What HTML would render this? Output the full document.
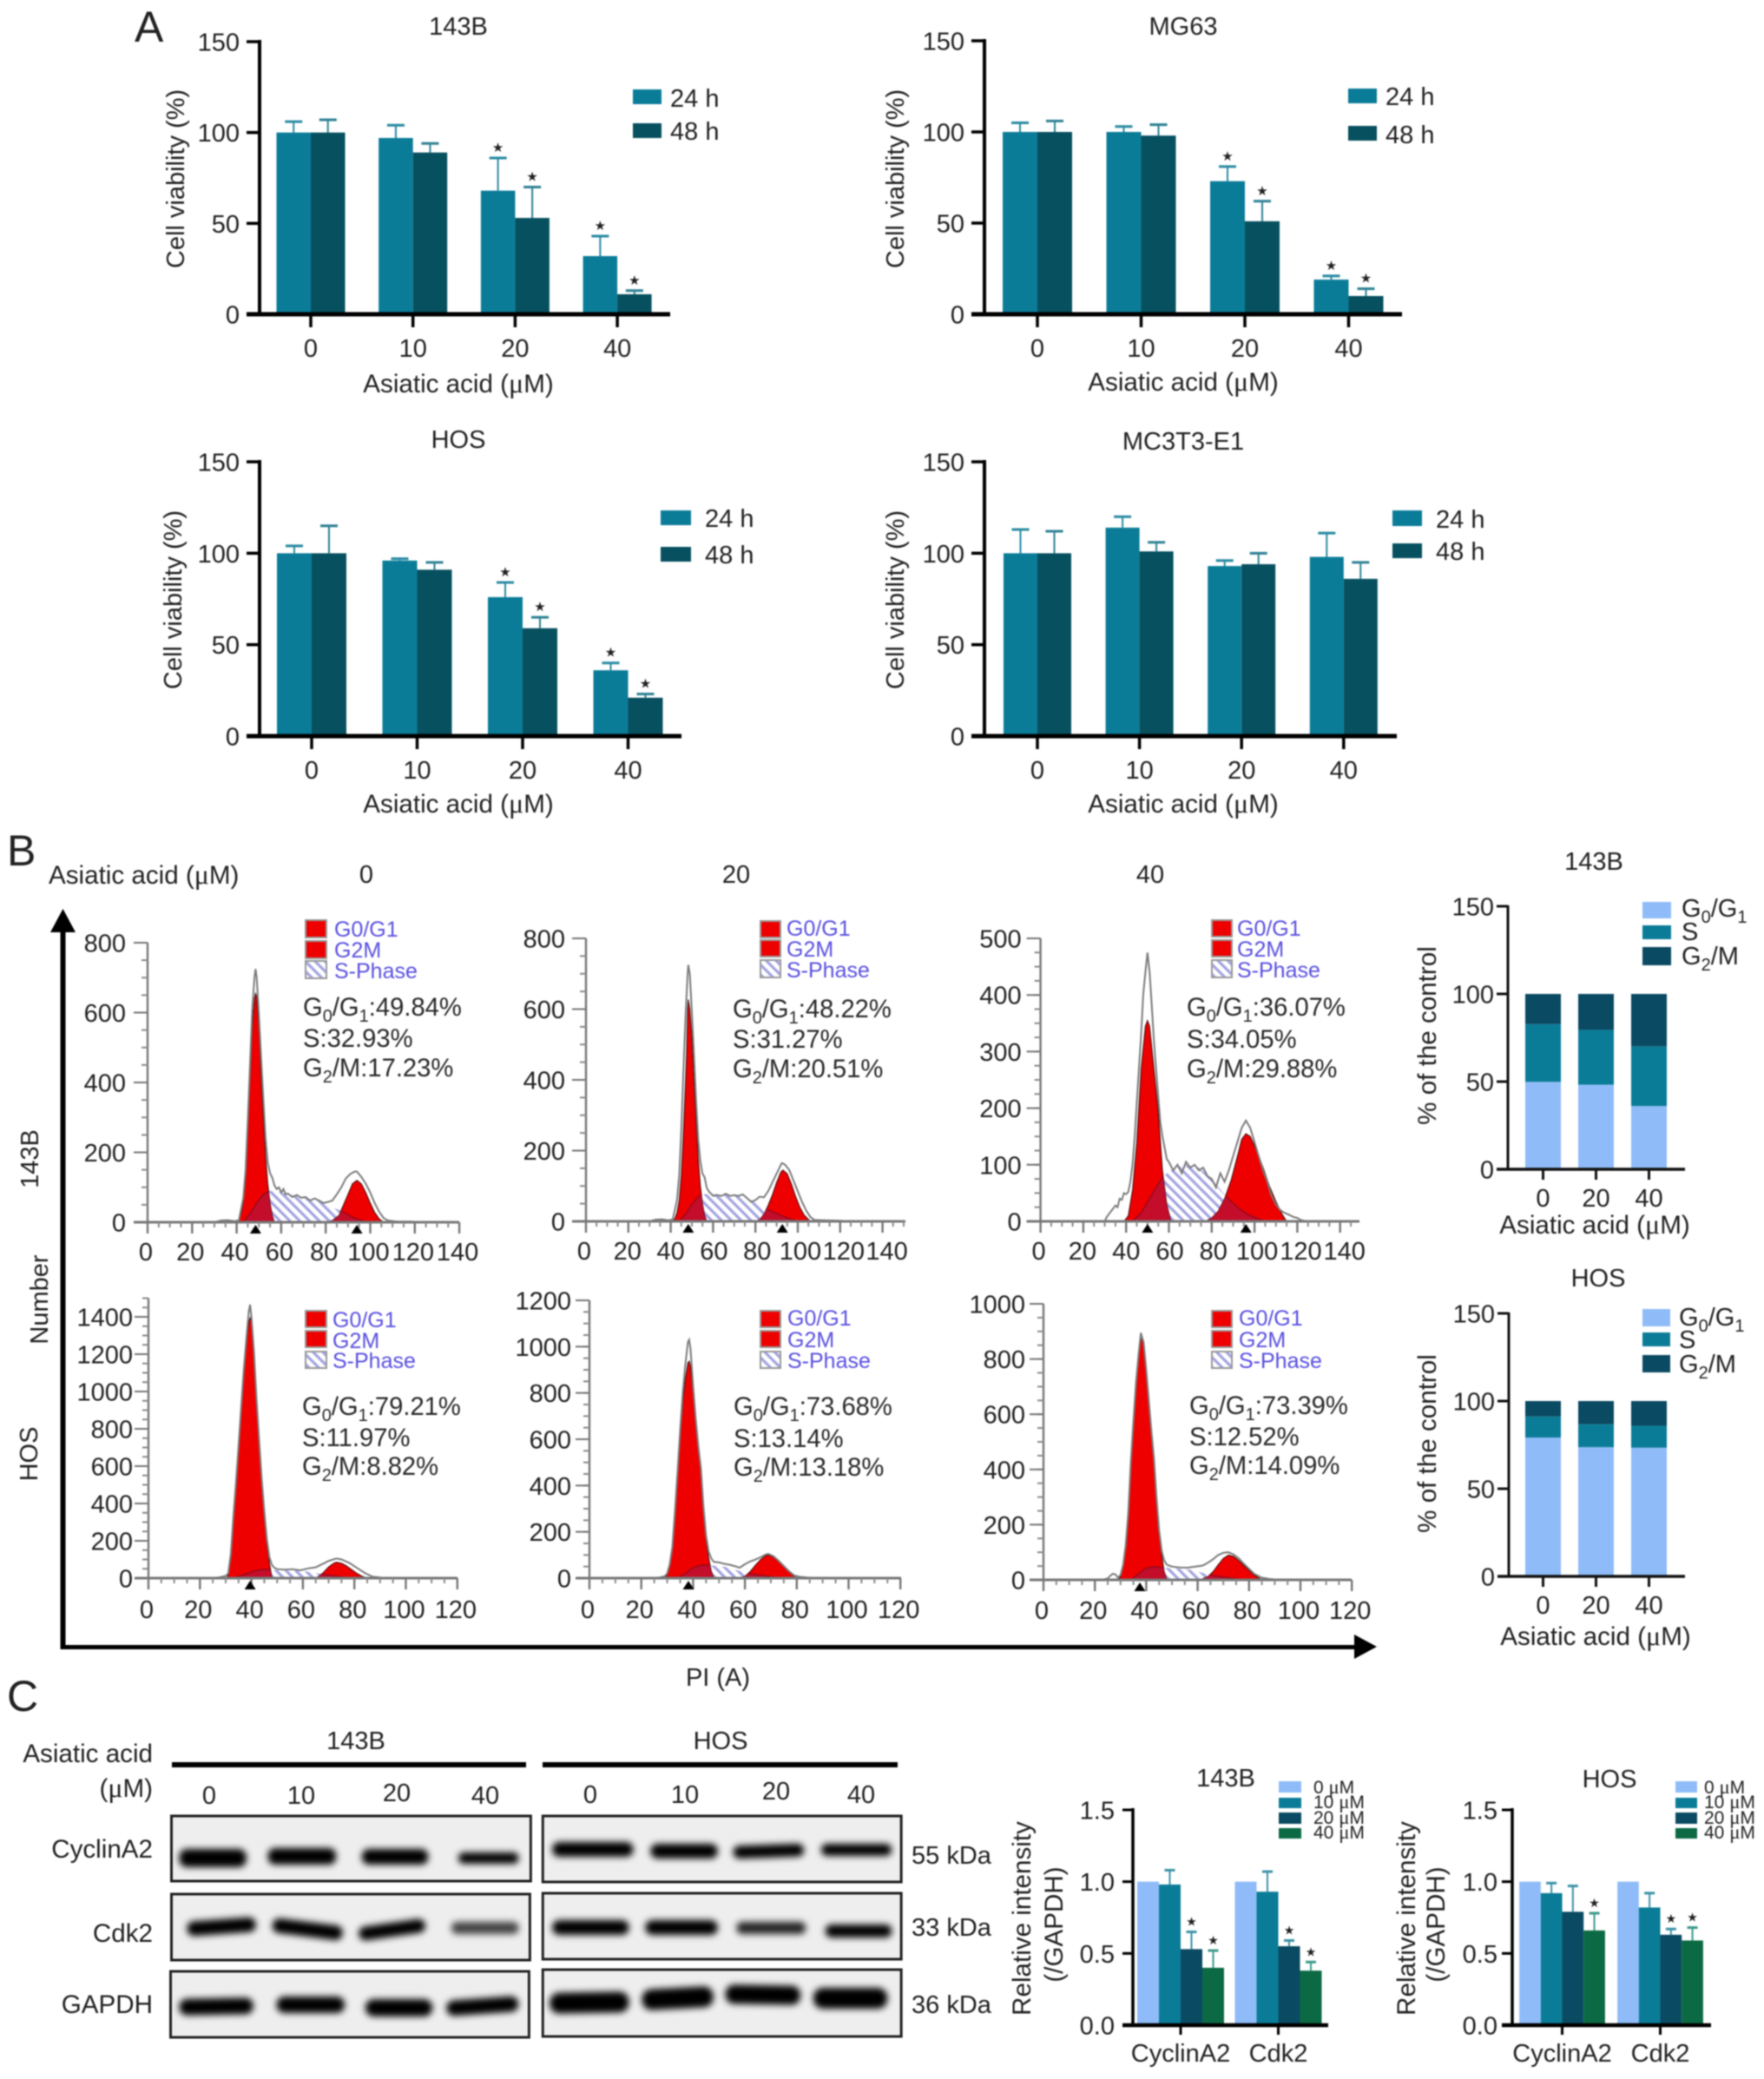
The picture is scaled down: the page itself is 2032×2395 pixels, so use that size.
<!DOCTYPE html>
<html lang="en">
<head>
<meta charset="utf-8">
<title>Asiatic acid cell viability, cell cycle and western blot figure</title>
<style>
html,body{margin:0;padding:0;background:#fff;}
svg{display:block;filter:blur(0.7px);font-family:"Liberation Sans",sans-serif;fill:#222;}
.t29{font-size:29px;}
.t28{font-size:29px;}
.tw{font-size:29.6px;}
.leg{font-size:25px;fill:#5a50e0;}
.stat{font-size:29.2px;fill:#2a2a2a;}
.sw{stroke:#999;stroke-width:2;}
.mu{font-family:"Liberation Serif",serif;font-size:1.08em;}
</style>
</head>
<body>
<svg id="figure" xmlns="http://www.w3.org/2000/svg" width="2032" height="2395" viewBox="0 0 2032 2395">
<defs>
<pattern id="hatch" patternUnits="userSpaceOnUse" width="8" height="8" patternTransform="rotate(-45)">
<rect width="8" height="8" fill="#ffffff"/>
<rect width="3.2" height="8" fill="#a4a4e2"/>
</pattern>
<filter id="bandBlur" x="-20%" y="-150%" width="140%" height="400%"><feGaussianBlur stdDeviation="4"/></filter>
</defs>

<!-- PANEL A text -->
<text x="155" y="48" font-size="50">A</text>
<text class="t28" x="528" y="40" text-anchor="middle">143B</text>
<text class="t28" x="1363" y="40" text-anchor="middle">MG63</text>
<text class="t28" x="528" y="516" text-anchor="middle">HOS</text>
<text class="t28" x="1363" y="518" text-anchor="middle">MC3T3-E1</text>

<text class="t29" text-anchor="middle" transform="translate(212 206) rotate(-90)">Cell viability (%)</text>
<text class="t29" text-anchor="middle" transform="translate(1041 206) rotate(-90)">Cell viability (%)</text>
<text class="t29" text-anchor="middle" transform="translate(209 691) rotate(-90)">Cell viability (%)</text>
<text class="t29" text-anchor="middle" transform="translate(1041 691) rotate(-90)">Cell viability (%)</text>

<text class="tw" x="528" y="452" text-anchor="middle">Asiatic acid (<tspan class="mu">μ</tspan>M)</text>
<text class="tw" x="1363" y="450" text-anchor="middle">Asiatic acid (<tspan class="mu">μ</tspan>M)</text>
<text class="tw" x="528" y="936" text-anchor="middle">Asiatic acid (<tspan class="mu">μ</tspan>M)</text>
<text class="tw" x="1363" y="936" text-anchor="middle">Asiatic acid (<tspan class="mu">μ</tspan>M)</text>

<rect x="729" y="103" width="33" height="17" fill="#0b7c98"/>
<rect x="729" y="142" width="33" height="17" fill="#07505f"/>
<text class="t29" x="772" y="123">24 h</text>
<text class="t29" x="772" y="161">48 h</text>
<rect x="1553" y="102" width="33" height="17" fill="#0b7c98"/>
<rect x="1553" y="145" width="33" height="17" fill="#07505f"/>
<text class="t29" x="1596" y="121">24 h</text>
<text class="t29" x="1596" y="165">48 h</text>
<rect x="761" y="588" width="35" height="17" fill="#0b7c98"/>
<rect x="761" y="630" width="35" height="17" fill="#07505f"/>
<text class="t29" x="812" y="607">24 h</text>
<text class="t29" x="812" y="649">48 h</text>
<rect x="1604" y="588" width="34" height="18" fill="#0b7c98"/>
<rect x="1604" y="626" width="34" height="17" fill="#07505f"/>
<text class="t29" x="1654" y="608">24 h</text>
<text class="t29" x="1654" y="645">48 h</text>

<!-- PANEL B text -->
<text x="8" y="997" font-size="50">B</text>
<text class="tw" x="56" y="1018">Asiatic acid (<tspan class="mu">μ</tspan>M)</text>
<text class="t28" x="422" y="1017" text-anchor="middle">0</text>
<text class="t28" x="848" y="1017" text-anchor="middle">20</text>
<text class="t28" x="1325" y="1017" text-anchor="middle">40</text>
<text class="t28" text-anchor="middle" transform="translate(44 1335) rotate(-90)">143B</text>
<text class="t28" text-anchor="middle" transform="translate(43 1675) rotate(-90)">HOS</text>
<text class="t28" text-anchor="middle" transform="translate(55 1497) rotate(-90)">Number</text>
<text class="t28" x="827" y="1942" text-anchor="middle">PI (A)</text>

<rect x="69.5" y="1070" width="6" height="830" fill="#000"/>
<polygon points="58,1074 87,1074 72.5,1047" fill="#000"/>
<rect x="70" y="1895" width="1495" height="5" fill="#000"/>
<polygon points="1560,1883 1560,1911 1586,1897" fill="#000"/>

<!-- legend blocks for histograms -->
<g>
<rect class="sw" x="352" y="1060" width="24" height="20" fill="#ee0000"/>
<rect class="sw" x="352" y="1084" width="24" height="20" fill="#ee0000"/>
<rect class="sw" x="352" y="1107" width="24" height="20" fill="url(#hatch)"/>
<text class="leg" x="385" y="1079">G0/G1</text>
<text class="leg" x="385" y="1103">G2M</text>
<text class="leg" x="385" y="1127">S-Phase</text>
</g>
<g>
<rect class="sw" x="876" y="1061" width="23" height="19" fill="#ee0000"/>
<rect class="sw" x="876" y="1083" width="23" height="19" fill="#ee0000"/>
<rect class="sw" x="876" y="1106" width="23" height="20" fill="url(#hatch)"/>
<text class="leg" x="906" y="1078">G0/G1</text>
<text class="leg" x="906" y="1102">G2M</text>
<text class="leg" x="906" y="1126">S-Phase</text>
</g>
<g>
<rect class="sw" x="1396" y="1060" width="23" height="19" fill="#ee0000"/>
<rect class="sw" x="1396" y="1083" width="23" height="19" fill="#ee0000"/>
<rect class="sw" x="1396" y="1106" width="23" height="20" fill="url(#hatch)"/>
<text class="leg" x="1425" y="1078">G0/G1</text>
<text class="leg" x="1425" y="1102">G2M</text>
<text class="leg" x="1425" y="1126">S-Phase</text>
</g>
<g>
<rect class="sw" x="352" y="1510" width="24" height="19" fill="#ee0000"/>
<rect class="sw" x="352" y="1533" width="24" height="19" fill="#ee0000"/>
<rect class="sw" x="352" y="1557" width="24" height="19" fill="url(#hatch)"/>
<text class="leg" x="383" y="1529">G0/G1</text>
<text class="leg" x="383" y="1553">G2M</text>
<text class="leg" x="383" y="1576">S-Phase</text>
</g>
<g>
<rect class="sw" x="876" y="1510" width="23" height="19" fill="#ee0000"/>
<rect class="sw" x="876" y="1533" width="23" height="19" fill="#ee0000"/>
<rect class="sw" x="876" y="1557" width="23" height="19" fill="url(#hatch)"/>
<text class="leg" x="907" y="1527">G0/G1</text>
<text class="leg" x="907" y="1552">G2M</text>
<text class="leg" x="907" y="1576">S-Phase</text>
</g>
<g>
<rect class="sw" x="1396" y="1510" width="23" height="19" fill="#ee0000"/>
<rect class="sw" x="1396" y="1533" width="23" height="19" fill="#ee0000"/>
<rect class="sw" x="1396" y="1557" width="23" height="19" fill="url(#hatch)"/>
<text class="leg" x="1427" y="1527">G0/G1</text>
<text class="leg" x="1427" y="1552">G2M</text>
<text class="leg" x="1427" y="1576">S-Phase</text>
</g>

<!-- phase percentages -->
<g>
<text class="stat" x="349" y="1170">G<tspan dy="7" font-size="20">0</tspan><tspan dy="-7">/G</tspan><tspan dy="7" font-size="20">1</tspan><tspan dy="-7">:49.84%</tspan></text>
<text class="stat" x="349" y="1206">S:32.93%</text>
<text class="stat" x="349" y="1240">G<tspan dy="7" font-size="20">2</tspan><tspan dy="-7">/M:17.23%</tspan></text>
</g>
<g>
<text class="stat" x="844" y="1172">G<tspan dy="7" font-size="20">0</tspan><tspan dy="-7">/G</tspan><tspan dy="7" font-size="20">1</tspan><tspan dy="-7">:48.22%</tspan></text>
<text class="stat" x="844" y="1207">S:31.27%</text>
<text class="stat" x="844" y="1241">G<tspan dy="7" font-size="20">2</tspan><tspan dy="-7">/M:20.51%</tspan></text>
</g>
<g>
<text class="stat" x="1367" y="1170">G<tspan dy="7" font-size="20">0</tspan><tspan dy="-7">/G</tspan><tspan dy="7" font-size="20">1</tspan><tspan dy="-7">:36.07%</tspan></text>
<text class="stat" x="1367" y="1207">S:34.05%</text>
<text class="stat" x="1367" y="1241">G<tspan dy="7" font-size="20">2</tspan><tspan dy="-7">/M:29.88%</tspan></text>
</g>
<g>
<text class="stat" x="348" y="1630">G<tspan dy="7" font-size="20">0</tspan><tspan dy="-7">/G</tspan><tspan dy="7" font-size="20">1</tspan><tspan dy="-7">:79.21%</tspan></text>
<text class="stat" x="348" y="1666">S:11.97%</text>
<text class="stat" x="348" y="1699">G<tspan dy="7" font-size="20">2</tspan><tspan dy="-7">/M:8.82%</tspan></text>
</g>
<g>
<text class="stat" x="845" y="1630">G<tspan dy="7" font-size="20">0</tspan><tspan dy="-7">/G</tspan><tspan dy="7" font-size="20">1</tspan><tspan dy="-7">:73.68%</tspan></text>
<text class="stat" x="845" y="1667">S:13.14%</text>
<text class="stat" x="845" y="1700">G<tspan dy="7" font-size="20">2</tspan><tspan dy="-7">/M:13.18%</tspan></text>
</g>
<g>
<text class="stat" x="1370" y="1629">G<tspan dy="7" font-size="20">0</tspan><tspan dy="-7">/G</tspan><tspan dy="7" font-size="20">1</tspan><tspan dy="-7">:73.39%</tspan></text>
<text class="stat" x="1370" y="1665">S:12.52%</text>
<text class="stat" x="1370" y="1698">G<tspan dy="7" font-size="20">2</tspan><tspan dy="-7">/M:14.09%</tspan></text>
</g>

<!-- stacked charts text -->
<text class="t28" x="1836" y="1002" text-anchor="middle">143B</text>
<text class="t28" x="1841" y="1482" text-anchor="middle">HOS</text>
<text class="tw" text-anchor="middle" transform="translate(1654 1193) rotate(-90)">% of the control</text>
<text class="tw" text-anchor="middle" transform="translate(1654 1663) rotate(-90)">% of the control</text>
<text class="tw" x="1837" y="1421" text-anchor="middle">Asiatic acid (<tspan class="mu">μ</tspan>M)</text>
<text class="tw" x="1838" y="1895" text-anchor="middle">Asiatic acid (<tspan class="mu">μ</tspan>M)</text>
<g>
<rect x="1892" y="1039" width="33" height="19" fill="#8fbcf8"/>
<rect x="1892" y="1066" width="33" height="16" fill="#0b7c98"/>
<rect x="1892" y="1091" width="33" height="21" fill="#0a4a62"/>
<text class="t28" x="1937" y="1056">G<tspan dy="7" font-size="20">0</tspan><tspan dy="-7">/G</tspan><tspan dy="7" font-size="20">1</tspan></text>
<text class="t28" x="1937" y="1083">S</text>
<text class="t28" x="1937" y="1111">G<tspan dy="7" font-size="20">2</tspan><tspan dy="-7">/M</tspan></text>
</g>
<g>
<rect x="1892" y="1508" width="32" height="20" fill="#8fbcf8"/>
<rect x="1892" y="1535" width="32" height="16" fill="#0b7c98"/>
<rect x="1892" y="1561" width="32" height="20" fill="#0a4a62"/>
<text class="t28" x="1934" y="1527">G<tspan dy="7" font-size="20">0</tspan><tspan dy="-7">/G</tspan><tspan dy="7" font-size="20">1</tspan></text>
<text class="t28" x="1934" y="1553">S</text>
<text class="t28" x="1934" y="1581">G<tspan dy="7" font-size="20">2</tspan><tspan dy="-7">/M</tspan></text>
</g>

<!-- PANEL C -->
<text x="8" y="1971" font-size="50">C</text>
<text class="t28" x="410" y="2015" text-anchor="middle">143B</text>
<text class="t28" x="830" y="2015" text-anchor="middle">HOS</text>
<rect x="198" y="2030" width="408" height="6" fill="#000"/>
<rect x="625" y="2030" width="409" height="6" fill="#000"/>
<text class="tw" x="176" y="2030" text-anchor="end">Asiatic acid</text>
<text class="tw" x="176" y="2070" text-anchor="end">(<tspan class="mu">μ</tspan>M)</text>
<text class="t28" x="241" y="2078" text-anchor="middle">0</text>
<text class="t28" x="347" y="2078" text-anchor="middle">10</text>
<text class="t28" x="457" y="2075" text-anchor="middle">20</text>
<text class="t28" x="559" y="2078" text-anchor="middle">40</text>
<text class="t28" x="680" y="2077" text-anchor="middle">0</text>
<text class="t28" x="789" y="2077" text-anchor="middle">10</text>
<text class="t28" x="894" y="2073" text-anchor="middle">20</text>
<text class="t28" x="992" y="2077" text-anchor="middle">40</text>
<text class="tw" x="176" y="2140" text-anchor="end">CyclinA2</text>
<text class="tw" x="176" y="2237" text-anchor="end">Cdk2</text>
<text class="tw" x="176" y="2319" text-anchor="end">GAPDH</text>
<text class="t28" x="1050" y="2147">55 kDa</text>
<text class="t28" x="1050" y="2230">33 kDa</text>
<text class="t28" x="1050" y="2319">36 kDa</text>

<g transform="scale(0.9925 1)">
<rect x="199" y="2092" width="417" height="75" fill="#eeeeee"/>
<g filter="url(#bandBlur)" fill="#050505">
<rect x="208" y="2130" width="78" height="21" rx="9"/>
<rect x="311" y="2129" width="79" height="19" rx="8"/>
<rect x="420" y="2130" width="77" height="18" rx="8"/>
<rect x="532" y="2134" width="70" height="13" rx="6"/>
</g>
<rect x="199" y="2092" width="417" height="75" fill="none" stroke="#222" stroke-width="3"/>
</g>
<g transform="scale(0.9925 1)">
<rect x="630" y="2092" width="416" height="76" fill="#eeeeee"/>
<g filter="url(#bandBlur)" fill="#050505">
<rect x="641" y="2122" width="94" height="17" rx="8"/>
<rect x="755" y="2124" width="78" height="17" rx="8"/>
<rect x="851" y="2125" width="82" height="15" rx="7" transform="rotate(-2 892 2132)"/>
<rect x="953" y="2124" width="82" height="14" rx="7"/>
</g>
<rect x="630" y="2092" width="416" height="76" fill="none" stroke="#222" stroke-width="3"/>
</g>
<g transform="scale(0.9925 1)">
<rect x="199" y="2182" width="416" height="76" fill="#eeeeee"/>
<g filter="url(#bandBlur)" fill="#050505">
<rect x="217" y="2211" width="80" height="17" rx="8" transform="rotate(-4 257 2219)"/>
<rect x="316" y="2214" width="82" height="17" rx="8" transform="rotate(7 357 2222)"/>
<rect x="416" y="2215" width="78" height="16" rx="8" transform="rotate(-8 455 2223)"/>
<rect x="524" y="2214" width="78" height="14" rx="6" opacity="0.72"/>
</g>
<rect x="199" y="2182" width="416" height="76" fill="none" stroke="#222" stroke-width="3"/>
</g>
<g transform="scale(0.9925 1)">
<rect x="630" y="2181" width="416" height="76" fill="#eeeeee"/>
<g filter="url(#bandBlur)" fill="#050505">
<rect x="641" y="2212" width="89" height="17" rx="8"/>
<rect x="749" y="2212" width="84" height="17" rx="8"/>
<rect x="855" y="2214" width="80" height="14" rx="6" opacity="0.85"/>
<rect x="958" y="2217" width="77" height="15" rx="7"/>
</g>
<rect x="630" y="2181" width="416" height="76" fill="none" stroke="#222" stroke-width="3"/>
</g>
<g transform="scale(0.9925 1)">
<rect x="198" y="2271" width="416" height="76" fill="#eeeeee"/>
<g filter="url(#bandBlur)" fill="#050505">
<rect x="208" y="2302" width="86" height="19" rx="9" transform="rotate(-1 251 2311)"/>
<rect x="321" y="2300" width="79" height="19" rx="9"/>
<rect x="424" y="2303" width="78" height="20" rx="10"/>
<rect x="518" y="2302" width="84" height="18" rx="9" transform="rotate(-4 560 2311)"/>
</g>
<rect x="198" y="2271" width="416" height="76" fill="none" stroke="#222" stroke-width="3"/>
</g>
<g transform="scale(0.9925 1)">
<rect x="630" y="2269" width="416" height="77" fill="#eeeeee"/>
<g filter="url(#bandBlur)" fill="#050505">
<rect x="638" y="2295" width="92" height="24" rx="11" transform="rotate(-1 684 2307)"/>
<rect x="745" y="2290" width="83" height="24" rx="11" transform="rotate(-3 786 2302)"/>
<rect x="842" y="2287" width="87" height="22" rx="10" transform="rotate(1 885 2298)"/>
<rect x="944" y="2290" width="86" height="24" rx="11"/>
</g>
<rect x="630" y="2269" width="416" height="77" fill="none" stroke="#222" stroke-width="3"/>
</g>

<text class="t28" x="1412" y="2058" text-anchor="middle">143B</text>
<text class="t28" x="1854" y="2059" text-anchor="middle">HOS</text>
<text class="tw" text-anchor="middle" transform="translate(1187 2210) rotate(-90)">Relative intensity</text>
<text class="tw" text-anchor="middle" transform="translate(1224 2217) rotate(-90)">(/GAPDH)</text>
<text class="tw" text-anchor="middle" transform="translate(1630 2210) rotate(-90)">Relative intensity</text>
<text class="tw" text-anchor="middle" transform="translate(1664 2217) rotate(-90)">(/GAPDH)</text>
<g font-size="21">
<rect x="1473" y="2052" width="26" height="13" fill="#8fbcf8"/>
<rect x="1473" y="2071" width="26" height="12" fill="#0b7c98"/>
<rect x="1473" y="2088" width="26" height="13" fill="#0a4a62"/>
<rect x="1473" y="2106" width="26" height="12" fill="#0b6a43"/>
<text x="1513" y="2066">0 <tspan class="mu">μ</tspan>M</text>
<text x="1513" y="2083">10 <tspan class="mu">μ</tspan>M</text>
<text x="1513" y="2101">20 <tspan class="mu">μ</tspan>M</text>
<text x="1513" y="2118">40 <tspan class="mu">μ</tspan>M</text>
</g>
<g font-size="21">
<rect x="1930" y="2052" width="25" height="13" fill="#8fbcf8"/>
<rect x="1930" y="2071" width="25" height="12" fill="#0b7c98"/>
<rect x="1930" y="2088" width="25" height="13" fill="#0a4a62"/>
<rect x="1930" y="2106" width="25" height="12" fill="#0b6a43"/>
<text x="1963" y="2066">0 <tspan class="mu">μ</tspan>M</text>
<text x="1963" y="2083">10 <tspan class="mu">μ</tspan>M</text>
<text x="1963" y="2101">20 <tspan class="mu">μ</tspan>M</text>
<text x="1963" y="2118">40 <tspan class="mu">μ</tspan>M</text>
</g>
</svg>

<script>
/* ---------- Panel A data ---------- */
const doseLabels = ['0', '10', '20', '40'];
const viabilityTicks = [0, 50, 100, 150];

const v143b24 = [100, 97, 68, 32];
const v143b48 = [100, 89, 53, 11];
const e143b24 = [106, 104, 86, 43];
const e143b48 = [107, 94, 70, 13];
const star143b24 = [0, 0, 1, 1];
const star143b48 = [0, 0, 1, 1];

const vMg6324 = [100, 100, 73, 19];
const vMg6348 = [100, 98, 51, 10];
const eMg6324 = [105, 103, 81, 21];
const eMg6348 = [106, 104, 62, 14];
const starMg6324 = [0, 0, 1, 1];
const starMg6348 = [0, 0, 1, 1];

const vHos24 = [100, 96, 76, 36];
const vHos48 = [100, 91, 59, 21];
const eHos24 = [104, 97, 84, 40];
const eHos48 = [115, 95, 65, 23];
const starHos24 = [0, 0, 1, 1];
const starHos48 = [0, 0, 1, 1];

const vMc24 = [100, 114, 93, 98];
const vMc48 = [100, 101, 94, 86];
const eMc24 = [113, 120, 96, 111];
const eMc48 = [112, 106, 100, 95];
const starMc24 = [0, 0, 0, 0];
const starMc48 = [0, 0, 0, 0];

/* ---------- Panel B histogram data ---------- */
const hist140Ticks = [0, 20, 40, 60, 80, 100, 120, 140];
const hist120Ticks = [0, 20, 40, 60, 80, 100, 120];
const count800Ticks = [0, 200, 400, 600, 800];
const count500Ticks = [0, 100, 200, 300, 400, 500];
const count1400Ticks = [0, 200, 400, 600, 800, 1000, 1200, 1400];
const count1200Ticks = [0, 200, 400, 600, 800, 1000, 1200];
const count1000Ticks = [0, 200, 400, 600, 800, 1000];

const f1G1X = [40,41,42,43,44,45,46,47,48,48.5,49,50,51,52,53,54,55,56,57];
const f1G1Y = [0,8,25,60,130,260,420,560,640,655,645,560,420,300,190,110,55,20,0];
const f1G2X = [80,83,86,88,90,92,94,96,98,100,102,104,106];
const f1G2Y = [0,5,20,50,80,110,120,110,85,55,28,10,0];
const f1SX = [43,46,49,52,55,60,65,70,75,78,80,83,86,89,92,96,100];
const f1SY = [0,25,55,80,90,85,78,72,65,58,48,42,35,25,14,5,0];
const f1OutX = [30,33,36,39,41,43,44,45,46,47,48,48.5,49,50,51,52,53,54,55,56,57,58,59,60,61,62,63,65,67,69,71,73,75,77,79,81,83,85,87,89,91,93,94,96,98,100,102,104,106,108,112,118,125];
const f1OutY = [0,5,6,3,6,70,150,290,450,610,700,725,700,590,470,350,240,170,140,128,105,95,100,85,95,80,82,72,78,70,72,62,68,62,55,58,62,80,100,125,138,145,145,130,110,85,55,30,12,5,2,2,0];
const f1Marks = [48.5, 94];

const f2G1X = [41,42,43,44,45,46,47,47.5,48,48.3,49,50,51,52,53,54,55,56,57];
const f2G1Y = [0,8,25,60,130,250,400,480,600,627,600,520,400,285,180,100,50,18,0];
const f2G2X = [80,82,84,86,88,90,92,93,95,97,99,101,103,106];
const f2G2Y = [0,5,20,45,75,110,140,145,135,105,70,40,18,0];
const f2SX = [44,47,50,53,56,60,65,70,75,78,81,84,87,90,94,98,101];
const f2SY = [0,20,48,70,77,77,77,74,68,60,48,38,30,22,12,4,0];
const f2OutX = [30,33,36,39,41,43,44,45,46,47,48,48.3,49,50,51,52,53,54,55,56,57,58,60,62,64,66,68,70,72,74,76,78,80,82,84,86,88,90,92,92.5,94,96,98,100,102,104,106,108,112,120,126];
const f2OutY = [0,5,6,3,6,60,130,260,420,580,700,725,700,590,470,340,230,170,135,125,95,85,72,74,72,78,72,74,72,76,66,55,60,70,68,85,110,135,160,165,160,145,115,85,55,30,12,4,3,2,0];
const f2Marks = [48.3, 92.7];

const f3G1X = [39,41,43,45,47,49,50,51,53,55,57,59,61];
const f3G1Y = [0,10,55,140,270,345,355,345,270,195,90,30,0];
const f3G2X = [77,80,83,86,89,92,94,96,98,101,104,107,110,113,115];
const f3G2Y = [0,6,18,40,72,115,145,155,150,125,95,62,35,12,0];
const f3SX = [43,47,51,54,57,60,64,69,74,78,81,85,89,93,98,105];
const f3SY = [0,15,40,60,78,88,96,100,95,82,70,52,35,22,10,0];
const f3OutX = [30,31,33,35,36,37,38,39,40,41,42,43,44,45,46,47,48,49,50,51,52,53,54,55,56,57,58,59,60,62,64,66,68,70,72,74,76,78,80,82,84,86,88,90,92,94,96,98,100,102,104,106,108,110,112,114,116,118,120,122,125];
const f3OutY = [0,8,18,28,25,40,38,50,48,52,70,100,150,210,270,330,400,440,475,440,380,320,270,220,175,150,130,110,105,90,100,85,105,95,100,90,95,80,75,60,85,70,90,115,140,165,178,165,140,115,90,70,45,30,20,15,12,8,6,2,0];
const f3Marks = [50, 96];

const f4G1X = [30.5,31,32,33,34,35,36,37,38,39,39.5,40,41,42,43,44,45,46,47,48];
const f4G1Y = [0,20,120,320,500,700,900,1100,1260,1370,1395,1375,1200,950,730,520,350,190,80,0];
const f4G2X = [64,66,68,70,72,73,75,77,79,81,83,85];
const f4G2Y = [0,8,30,60,80,85,80,65,45,25,10,0];
const f4SX = [33,37,41,44,47,50,55,60,64,68,72,76,80];
const f4SY = [0,18,38,46,45,42,40,38,30,20,12,5,0];
const f4OutX = [25,28,30,31,32,33,34,35,36,37,38,39,39.5,40,41,42,43,44,45,46,47,48,49,50,53,56,59,62,65,68,70,73,75,78,81,84,87,92];
const f4OutY = [0,5,12,25,130,330,510,710,910,1110,1280,1430,1465,1400,1210,960,740,530,360,210,110,70,55,48,45,48,42,52,58,78,92,105,100,82,55,28,8,0];
const f4Marks = [39.5];

const f5G1X = [29,30,31,32,33,34,35,36,37,38,38.5,39,40,41,42,43,44,45,46,47,48];
const f5G1Y = [0,15,55,130,280,450,620,760,860,930,937,915,810,680,560,470,300,170,90,30,0];
const f5G2X = [58,60,62,64,66,68,69,71,73,75,77,79,80];
const f5G2Y = [0,8,28,55,80,97,100,92,72,50,28,8,0];
const f5SX = [34,37,40,43,46,50,54,58,62,66,70,75];
const f5SY = [0,20,45,56,56,52,46,30,20,12,6,0];
const f5OutX = [25,27,29,30,31,32,33,34,35,36,37,38,38.5,39,40,41,42,43,44,45,46,47,48,50,52,54,56,58,60,62,64,66,68,69,71,73,75,77,79,81,84,88,95];
const f5OutY = [0,3,8,20,60,135,290,460,640,800,920,1020,1030,990,830,690,570,475,310,185,115,85,70,68,62,58,52,45,60,72,80,90,102,105,95,75,52,30,12,6,3,1,0];
const f5Marks = [38.2];

const f6G1X = [29,30,31,32,33,34,35,36,37,37.9,38.5,39,40,41,42,43,44,45,46,47,48];
const f6G1Y = [0,12,50,120,240,420,570,710,810,874,870,855,750,640,530,430,290,170,90,30,0];
const f6G2X = [61,64,66,68,70,72,74,76,78,80,82,85];
const f6G2Y = [0,12,30,55,78,90,85,70,52,35,18,0];
const f6SX = [34,37,40,43,46,50,54,58,62,66,70,75,80];
const f6SY = [0,22,42,48,45,42,40,36,25,16,10,4,0];
const f6OutX = [23,25,26,27,28,29,30,31,32,33,34,35,36,37,37.9,39,40,41,42,43,44,45,46,47,48,50,53,56,59,62,64,66,68,70,72,74,76,78,80,82,85,88,92];
const f6OutY = [0,5,15,22,20,8,18,55,125,245,425,575,715,815,895,860,760,650,540,440,300,180,105,70,55,48,45,44,48,52,62,75,90,98,100,92,78,58,40,22,8,3,0];
const f6Marks = [37.5];

/* ---------- Panel B stacked data ---------- */
const stackDoses = ['0', '20', '40'];
const stackTicks = [0, 50, 100, 150];
const stack143bG1 = [49.84, 48.22, 36.07];
const stack143bS = [32.93, 31.27, 34.05];
const stack143bG2 = [17.23, 20.51, 29.88];
const stackHosG1 = [79.21, 73.68, 73.39];
const stackHosS = [11.97, 13.14, 12.52];
const stackHosG2 = [8.82, 13.18, 14.09];

/* ---------- Panel C densitometry data ---------- */
const proteinLabels = ['CyclinA2', 'Cdk2'];
const densityTicks = ['0.0', '0.5', '1.0', '1.5'];
const d143b0 = [1.0, 1.0];
const d143b10 = [0.98, 0.93];
const d143b20 = [0.53, 0.55];
const d143b40 = [0.40, 0.38];
const de143b0 = [null, null];
const de143b10 = [1.08, 1.07];
const de143b20 = [0.65, 0.59];
const de143b40 = [0.52, 0.44];
const ds143b20 = [1, 1];
const ds143b40 = [1, 1];
const dHos0 = [1.0, 1.0];
const dHos10 = [0.92, 0.82];
const dHos20 = [0.79, 0.63];
const dHos40 = [0.66, 0.59];
const deHos0 = [null, null];
const deHos10 = [0.99, 0.92];
const deHos20 = [0.97, 0.67];
const deHos40 = [0.78, 0.68];
const dsHos20 = [0, 1];
const dsHos40 = [1, 1];
const noStars = [0, 0];

/* ---------- Drawing ---------- */
const SVG_NS = 'http://www.w3.org/2000/svg';
const root = document.getElementById('figure');

function mk(tag, attrs, parent) {
  const el = document.createElementNS(SVG_NS, tag);
  for (const k in attrs) el.setAttribute(k, attrs[k]);
  parent.appendChild(el);
  return el;
}
function makeGroup(name) {
  const g = mk('g', {}, root);
  
  
  return g;
}
function drawLine(parent, name, x1, y1, x2, y2, color, width) {
  const el = mk('line', {x1: x1, y1: y1, x2: x2, y2: y2, stroke: color, 'stroke-width': width}, parent);
  
  
  return el;
}
function drawText(parent, name, str, x, y, size, anchor) {
  const el = mk('text', {x: x, y: y, 'font-size': size, 'text-anchor': anchor}, parent);
  el.textContent = str;
  
  
  return el;
}
function drawRect(parent, name, x, y, w, h, color) {
  const el = mk('rect', {x: x, y: y, width: w, height: h, fill: color}, parent);
  
  
  return el;
}

function drawBarChart(c) {
  const g = makeGroup(c.name);
  const yOf = v => c.y0 - (v / c.vMax) * (c.y0 - c.yTop);
  const xOf = i => c.first + i * c.step;
  const n = c.series.length;
  c.series.forEach((vals, s) => {
    vals.forEach((v, i) => {
      const left = xOf(i) + (s - n / 2) * c.barW;
      const cx = left + c.barW / 2;
      const id = c.name + '-s' + s + '-' + c.cats[i];
      drawRect(g, 'bar-' + id, left, yOf(v), c.barW, c.y0 - yOf(v), c.colors[s]);
      const top = c.errs[s][i];
      if (top !== null) {
        drawLine(g, 'error-line-' + id, cx, yOf(v), cx, yOf(top), c.errColors[s], c.errW);
        drawLine(g, 'error-cap-' + id, cx - c.capW, yOf(top), cx + c.capW, yOf(top), c.errColors[s], c.errW + 1);
      }
      if (c.stars[s][i]) {
        const base = top === null ? v : top;
        drawText(g, 'star-' + id, '\u2605', cx, yOf(base) - 7, c.starSize, 'middle').setAttribute('style', 'font-family:"DejaVu Sans",sans-serif;fill:#222');
      }
    });
  });
  drawLine(g, 'y-axis', c.axisX, c.y0 + 2, c.axisX, c.yTop - 2, '#000', c.axisW);
  drawLine(g, 'x-axis', c.xStart, c.y0, c.xEnd, c.y0, '#000', c.axisW + 1);
  c.ticks.forEach(t => {
    const label = typeof t === 'string' ? t : String(t);
    const v = parseFloat(t);
    drawLine(g, 'y-tick-' + label, c.xStart, yOf(v), c.axisX, yOf(v), '#000', c.axisW - 0.5);
    drawText(g, 'y-tick-label-' + label, label, c.labelRight, yOf(v) + 10.5, 29, 'end');
  });
  c.cats.forEach((cat, i) => {
    drawLine(g, 'x-tick-' + cat, xOf(i), c.y0, xOf(i), c.y0 + c.tickLen, '#000', c.axisW - 0.5);
    drawText(g, 'x-tick-label-' + cat, cat, xOf(i), c.y0 + c.labelDrop, 29, 'middle');
  });
}

const TEAL = '#0b7c98', DARK = '#07505f', ERR1 = '#2b8ba3', ERR2 = '#2f8294';
function drawViability(name, axisX, xEnd, y0, yTop, first, step, barW, a, b, ea, eb, sa, sb) {
  drawBarChart({name: name, axisX: axisX, xStart: axisX - 15, xEnd: xEnd, y0: y0, yTop: yTop, vMax: 150,
    ticks: viabilityTicks, cats: doseLabels, first: first, step: step, barW: barW,
    series: [a, b], errs: [ea, eb], stars: [sa, sb], colors: [TEAL, DARK], errColors: [ERR1, ERR2],
    errW: 2, capW: 10, starSize: 15, axisW: 4, tickLen: 15, labelRight: axisX - 23, labelDrop: 49});
}
drawViability('viability-chart-143b', 299, 772, 362, 48, 358, 117.7, 39.5, v143b24, v143b48, e143b24, e143b48, star143b24, star143b48);
drawViability('viability-chart-mg63', 1134, 1615, 362, 47, 1195, 119.5, 40, vMg6324, vMg6348, eMg6324, eMg6348, starMg6324, starMg6348);
drawViability('viability-chart-hos', 299, 785, 848, 532, 359, 121.5, 40, vHos24, vHos48, eHos24, eHos48, starHos24, starHos48);
drawViability('viability-chart-mc3t3', 1134, 1609, 848, 532, 1195, 117.6, 39, vMc24, vMc48, eMc24, eMc48, starMc24, starMc48);

let clipCounter = 0;
function areaPath(xs, ys, sx, sy, y0) {
  let d = 'M' + sx(xs[0]) + ',' + y0;
  xs.forEach((x, i) => { d += ' L' + sx(x).toFixed(1) + ',' + sy(ys[i]).toFixed(1); });
  return d + ' L' + sx(xs[xs.length - 1]) + ',' + y0 + ' Z';
}
function drawHistogram(c) {
  const g = makeGroup(c.name);
  const sx = v => c.x0 + v * c.perUnit;
  const sy = v => c.y0 - v * c.perCount;
  const AX = '#777';
  const clipId = 'peakClip' + (clipCounter++);
  const g1 = areaPath(c.g1X, c.g1Y, sx, sy, c.y0);
  const g2 = areaPath(c.g2X, c.g2Y, sx, sy, c.y0);
  const sp = areaPath(c.sX, c.sY, sx, sy, c.y0);
  const clip = mk('clipPath', {id: clipId}, g);
  mk('path', {d: g1}, clip);
  mk('path', {d: g2}, clip);

  const sArea = mk('path', {d: sp, fill: 'url(#hatch)'}, g);
  
  
  const g1Area = mk('path', {d: g1, fill: '#ee0000', stroke: '#3a0a0a', 'stroke-width': 1}, g);
  
  
  const g2Area = mk('path', {d: g2, fill: '#ee0000', stroke: '#3a0a0a', 'stroke-width': 1}, g);
  
  
  const overlap = mk('path', {d: sp, fill: '#b81034', 'fill-opacity': 0.8, 'clip-path': 'url(#' + clipId + ')', stroke: '#7a0a20', 'stroke-width': 1}, g);
  
  

  const pts = c.outX.map((x, i) => sx(x).toFixed(1) + ',' + sy(c.outY[i]).toFixed(1)).join(' ');
  const outline = mk('polyline', {points: pts, fill: 'none', stroke: '#7c7c7c', 'stroke-width': 2}, g);
  
  

  drawLine(g, 'y-axis', c.x0, c.y0, c.x0, sy(c.axisTop), AX, 2.4);
  const xEndPx = c.xEnd;
  drawLine(g, 'x-axis', c.x0 - 16, c.y0, xEndPx, c.y0, AX, 3);
  for (let v = 0; v <= c.axisTop; v += c.yMinor) {
    drawLine(g, 'y-minor-tick', c.x0 - 7, sy(v), c.x0, sy(v), '#8a8a8a', 2);
  }
  c.yTicks.forEach(t => {
    drawLine(g, 'y-tick-' + t, c.x0 - 16, sy(t), c.x0, sy(t), AX, 2);
    drawText(g, 'y-tick-label-' + t, String(t), c.x0 - c.yGap, sy(t) + 10.5, 29, 'end');
  });
  for (let v = 0; sx(v) <= xEndPx; v += 5) {
    drawLine(g, 'x-minor-tick', sx(v), c.y0, sx(v), c.y0 + 6, '#8a8a8a', 2);
  }
  c.xTicks.forEach(t => {
    drawLine(g, 'x-tick-' + t, sx(t), c.y0, sx(t), c.y0 + 13, AX, 2.4);
    drawText(g, 'x-tick-label-' + t, String(t), sx(t) - 2 + t * c.skew, c.y0 + c.labelDrop, 29, 'middle');
  });
  c.marks.forEach(m => {
    const tri = mk('polygon', {points: (sx(m) - 6.5) + ',' + (c.y0 + 13) + ' ' + (sx(m) + 6.5) + ',' + (c.y0 + 13) + ' ' + sx(m) + ',' + (c.y0 + 3), fill: '#000'}, g);
    
    
  });
}

drawHistogram({name: 'histogram-143b-0', x0: 170, perUnit: 2.565, xEnd: 529, y0: 1408, perCount: 322 / 800, axisTop: 800, yMinor: 50, yGap: 25, skew: 0, labelDrop: 44,
  yTicks: count800Ticks, xTicks: hist140Ticks, g1X: f1G1X, g1Y: f1G1Y, g2X: f1G2X, g2Y: f1G2Y, sX: f1SX, sY: f1SY, outX: f1OutX, outY: f1OutY, marks: f1Marks});
drawHistogram({name: 'histogram-143b-20', x0: 675, perUnit: 2.44, xEnd: 1043, y0: 1407, perCount: 326 / 800, axisTop: 800, yMinor: 50, yGap: 24, skew: 0.05, labelDrop: 44,
  yTicks: count800Ticks, xTicks: hist140Ticks, g1X: f2G1X, g1Y: f2G1Y, g2X: f2G2X, g2Y: f2G2Y, sX: f2SX, sY: f2SY, outX: f2OutX, outY: f2OutY, marks: f2Marks});
drawHistogram({name: 'histogram-143b-40', x0: 1198.6, perUnit: 2.465, xEnd: 1566, y0: 1407, perCount: 326 / 500, axisTop: 500, yMinor: 25, yGap: 22, skew: 0.05, labelDrop: 44,
  yTicks: count500Ticks, xTicks: hist140Ticks, g1X: f3G1X, g1Y: f3G1Y, g2X: f3G2X, g2Y: f3G2Y, sX: f3SX, sY: f3SY, outX: f3OutX, outY: f3OutY, marks: f3Marks});
drawHistogram({name: 'histogram-hos-0', x0: 171, perUnit: 2.965, xEnd: 527, y0: 1818, perCount: 301 / 1400, axisTop: 1500, yMinor: 50, yGap: 18, skew: 0, labelDrop: 46,
  yTicks: count1400Ticks, xTicks: hist120Ticks, g1X: f4G1X, g1Y: f4G1Y, g2X: f4G2X, g2Y: f4G2Y, sX: f4SX, sY: f4SY, outX: f4OutX, outY: f4OutY, marks: f4Marks});
drawHistogram({name: 'histogram-hos-20', x0: 679, perUnit: 2.985, xEnd: 1038, y0: 1818, perCount: 320 / 1200, axisTop: 1200, yMinor: 50, yGap: 21, skew: 0, labelDrop: 46,
  yTicks: count1200Ticks, xTicks: hist120Ticks, g1X: f5G1X, g1Y: f5G1Y, g2X: f5G2X, g2Y: f5G2Y, sX: f5SX, sY: f5SY, outX: f5OutX, outY: f5OutY, marks: f5Marks});
drawHistogram({name: 'histogram-hos-40', x0: 1202, perUnit: 2.96, xEnd: 1557, y0: 1820, perCount: 318 / 1000, axisTop: 1000, yMinor: 50, yGap: 21, skew: 0, labelDrop: 45,
  yTicks: count1000Ticks, xTicks: hist120Ticks, g1X: f6G1X, g1Y: f6G1Y, g2X: f6G2X, g2Y: f6G2Y, sX: f6SX, sY: f6SY, outX: f6OutX, outY: f6OutY, marks: f6Marks});

function drawStack(c) {
  const g = makeGroup(c.name);
  const yOf = v => c.y0 - (v / 150) * (c.y0 - c.yTop);
  const xOf = i => c.first + i * c.step;
  const layers = [c.g1, c.s, c.g2];
  const colors = ['#8fbcf8', '#0b7c98', '#0a4a62'];
  const layerNames = ['g0g1', 's', 'g2m'];
  stackDoses.forEach((dose, i) => {
    let base = 0;
    layers.forEach((vals, l) => {
      drawRect(g, 'stack-' + layerNames[l] + '-' + dose, xOf(i) - c.barW / 2, yOf(base + vals[i]), c.barW, yOf(base) - yOf(base + vals[i]), colors[l]);
      base += vals[i];
    });
    drawLine(g, 'x-tick-' + dose, xOf(i), c.y0, xOf(i), c.y0 + 12, '#111', 3);
    drawText(g, 'x-tick-label-' + dose, dose, xOf(i), c.y0 + 43, 29, 'middle');
  });
  drawLine(g, 'y-axis', c.axisX, c.y0 + 1, c.axisX, c.yTop - 1, '#111', 3);
  drawLine(g, 'x-axis', c.axisX - 13, c.y0, c.xEnd, c.y0, '#111', 3.5);
  stackTicks.forEach(t => {
    drawLine(g, 'y-tick-' + t, c.axisX - 13, yOf(t), c.axisX, yOf(t), '#111', 3);
    drawText(g, 'y-tick-label-' + t, String(t), c.axisX - 16, yOf(t) + 10.5, 29, 'end');
  });
}
drawStack({name: 'stacked-chart-143b', axisX: 1737, xEnd: 1941, y0: 1347, yTop: 1044, first: 1777.5, step: 61, barW: 41, g1: stack143bG1, s: stack143bS, g2: stack143bG2});
drawStack({name: 'stacked-chart-hos', axisX: 1738, xEnd: 1941, y0: 1816, yTop: 1513, first: 1777.5, step: 61, barW: 41, g1: stackHosG1, s: stackHosS, g2: stackHosG2});

const DC = ['#8fbcf8', '#0b7c98', '#0a4a62', '#0b6a43'];
const DE = ['#8fbcf8', '#3d93a8', '#3d93a8', '#3d9a8a'];
drawBarChart({name: 'density-chart-143b', axisX: 1305, xStart: 1293, xEnd: 1530, y0: 2333, yTop: 2085, vMax: 1.5,
  ticks: densityTicks, cats: proteinLabels, first: 1360, step: 112.5, barW: 25,
  series: [d143b0, d143b10, d143b20, d143b40], errs: [de143b0, de143b10, de143b20, de143b40],
  stars: [noStars, noStars, ds143b20, ds143b40], colors: DC, errColors: DE,
  errW: 2, capW: 6, starSize: 14, axisW: 3.5, tickLen: 11, labelRight: 1284, labelDrop: 42});
drawBarChart({name: 'density-chart-hos', axisX: 1742, xStart: 1730, xEnd: 1971, y0: 2333, yTop: 2085, vMax: 1.5,
  ticks: densityTicks, cats: proteinLabels, first: 1799.5, step: 113, barW: 24.7,
  series: [dHos0, dHos10, dHos20, dHos40], errs: [deHos0, deHos10, deHos20, deHos40],
  stars: [noStars, noStars, dsHos20, dsHos40], colors: DC, errColors: DE,
  errW: 2, capW: 6, starSize: 14, axisW: 3.5, tickLen: 11, labelRight: 1725, labelDrop: 42});
</script>
</body>
</html>
